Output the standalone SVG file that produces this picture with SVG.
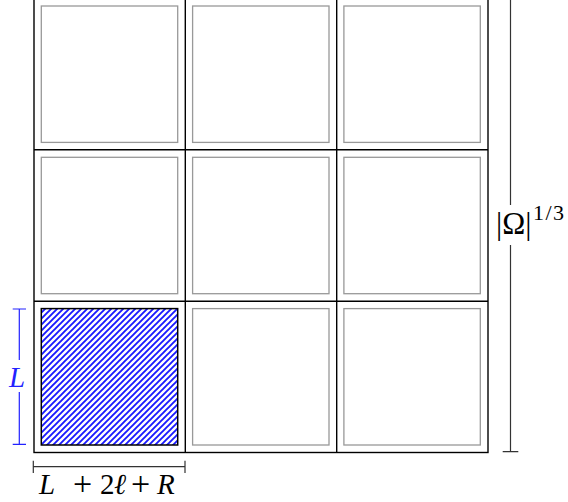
<svg xmlns="http://www.w3.org/2000/svg" width="568" height="502" viewBox="0 0 568 502">
<style>
.grid{fill:none;stroke:#000;stroke-width:1.4}
.cell{fill:none;stroke:#999;stroke-width:1.3}
.dimb{fill:none;stroke:#2222ff;stroke-width:1.2}
.dimk{fill:none;stroke:#333;stroke-width:1.2}
.t{font-family:"Liberation Serif","DejaVu Serif",serif;font-size:29px}
.i{font-style:italic}
.p{font-size:34px}
.big{font-size:31px}
.sup{font-size:22px}
</style>
<defs>
<pattern id="hatch" patternUnits="userSpaceOnUse" width="6" height="6">
<path d="M0,6 L6,0 M-1,1 L1,-1 M5,7 L7,5" stroke="#1a1aff" stroke-width="1.9"/>
</pattern>
</defs>
<rect width="568" height="502" fill="#fff"/>
<g id="cells">
<rect class="cell" x="41.3" y="6" width="136.4" height="136.4"/>
<rect class="cell" x="192.6" y="6" width="136.4" height="136.4"/>
<rect class="cell" x="343.9" y="6" width="136.4" height="136.4"/>
<rect class="cell" x="41.3" y="157.3" width="136.4" height="136.4"/>
<rect class="cell" x="192.6" y="157.3" width="136.4" height="136.4"/>
<rect class="cell" x="343.9" y="157.3" width="136.4" height="136.4"/>
<rect class="cell" x="192.6" y="308.6" width="136.4" height="136.4"/>
<rect class="cell" x="343.9" y="308.6" width="136.4" height="136.4"/>
</g>
<g id="hatched">
<rect x="41.3" y="308.6" width="136.4" height="136.4" fill="url(#hatch)" stroke="#000" stroke-width="1.5"/>
</g>
<g id="grid">
<rect class="grid" x="34" y="-1.5" width="454" height="454"/>
<line class="grid" x1="185.3" y1="-2" x2="185.3" y2="453"/>
<line class="grid" x1="336.7" y1="-2" x2="336.7" y2="453"/>
<line class="grid" x1="34" y1="149.8" x2="488" y2="149.8"/>
<line class="grid" x1="34" y1="301.2" x2="488" y2="301.2"/>
</g>
<g id="connectors">
<path class="dimb" d="M12.7,309 H26 M12.7,444.3 H26 M19.3,309 V360 M19.3,392 V444.3"/>
<path class="dimk" d="M33.3,460.7 V473 M185,460.7 V473 M33.3,466.7 H185"/>
<path class="dimk" d="M502.7,451.7 H518.3 M510.5,-2 V205 M510.5,245 V451.7"/>
</g>
<g id="labels">
<text class="t i" x="17" y="387" text-anchor="middle" fill="#2222ff">L</text>
<text class="t" y="494"><tspan class="i" x="39">L</tspan><tspan class="p" x="73" dy="1">+</tspan><tspan x="100" dy="-1">2</tspan><tspan class="i" x="114">ℓ</tspan><tspan class="p" x="131" dy="1">+</tspan><tspan class="i" x="157" dy="-1">R</tspan></text>
<text class="t big" x="496" y="234">|Ω|<tspan class="sup" x="533" y="220" letter-spacing="1.5">1/3</tspan></text>
</g>
</svg>
